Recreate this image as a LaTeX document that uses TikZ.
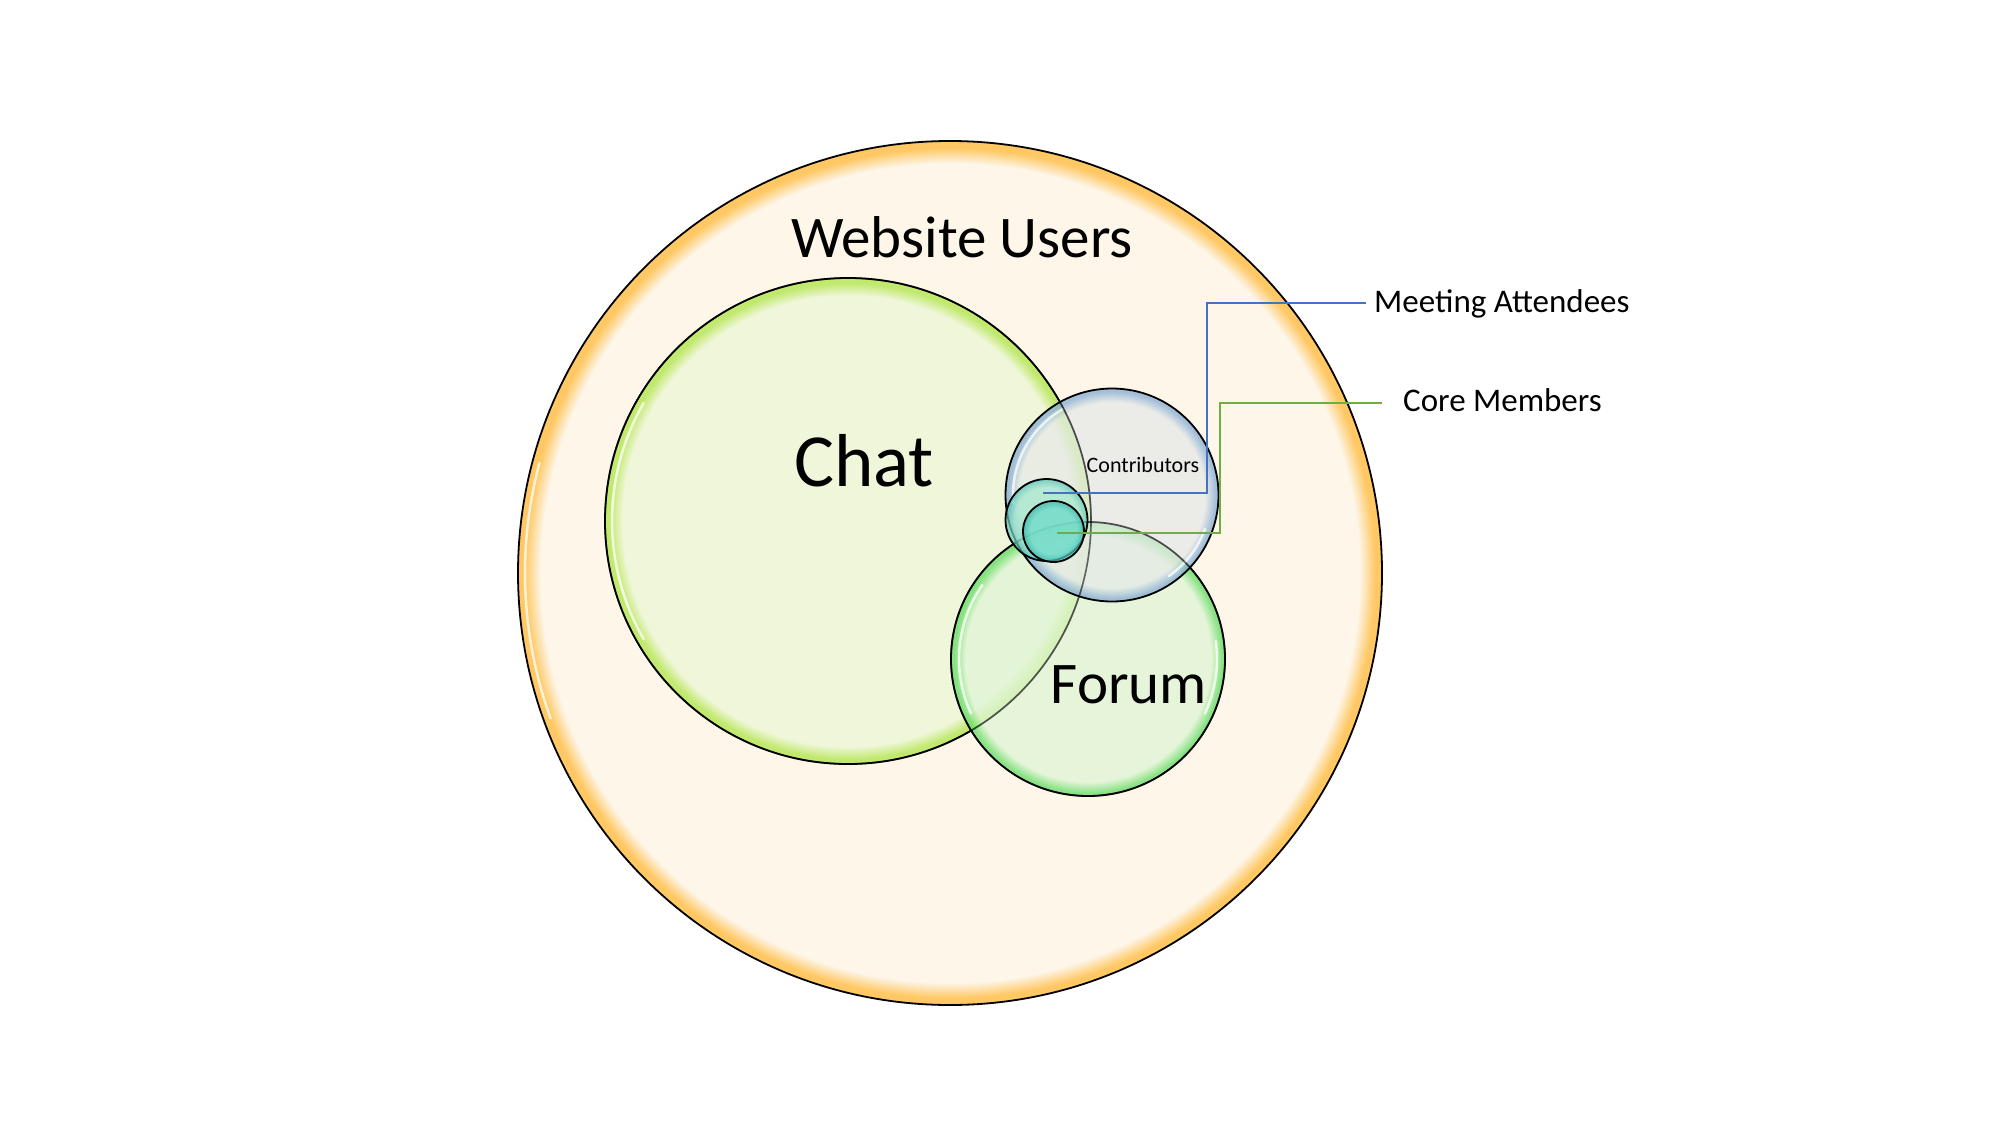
\documentclass[tikz,border=0pt]{standalone}
\usepackage{fontspec}
\setmainfont{Carlito}
\definecolor{creamc}{RGB}{253,246,233}
\definecolor{orangec}{RGB}{255,200,100}
\definecolor{chatf}{RGB}{237,247,214}
\definecolor{chatr}{RGB}{178,230,80}
\definecolor{forumf}{RGB}{223,245,214}
\definecolor{forumr}{RGB}{100,220,100}
\definecolor{contf}{RGB}{229,233,232}
\definecolor{contr}{RGB}{130,170,212}
\definecolor{medf}{RGB}{160,232,205}
\definecolor{medr}{RGB}{90,200,185}
\definecolor{smf}{RGB}{105,218,200}
\definecolor{smr}{RGB}{60,185,175}
\definecolor{lblue}{RGB}{68,114,196}
\definecolor{lgreen}{RGB}{112,173,71}
\pgfdeclareradialshading{usersbub}{\pgfpoint{0bp}{0bp}}{color(0bp)=(creamc); color(23.7bp)=(creamc); color(24.6bp)=(orangec); color(25bp)=(orangec); color(50bp)=(orangec)}
\pgfdeclareradialshading{chatbub}{\pgfpoint{0bp}{0bp}}{color(0bp)=(chatf); color(23.2bp)=(chatf); color(24.5bp)=(chatr); color(25bp)=(chatr); color(50bp)=(chatr)}
\pgfdeclareradialshading{forumbub}{\pgfpoint{0bp}{0bp}}{color(0bp)=(forumf); color(22.4bp)=(forumf); color(24.4bp)=(forumr); color(25bp)=(forumr); color(50bp)=(forumr)}
\pgfdeclareradialshading{contbub}{\pgfpoint{0bp}{0bp}}{color(0bp)=(contf); color(21.8bp)=(contf); color(24.3bp)=(contr); color(25bp)=(contr); color(50bp)=(contr)}
\pgfdeclareradialshading{medbub}{\pgfpoint{0bp}{0bp}}{color(0bp)=(medf); color(20bp)=(medf); color(24.2bp)=(medr); color(25bp)=(medr); color(50bp)=(medr)}
\pgfdeclareradialshading{smbub}{\pgfpoint{0bp}{0bp}}{color(0bp)=(smf); color(19bp)=(smf); color(24.2bp)=(smr); color(25bp)=(smr); color(50bp)=(smr)}
\tikzset{
  bubble/.style={circle, draw=black, line width=1.8pt, inner sep=0pt, shade, minimum size=#1},
  glint/.style={white, line width=2.5pt, opacity=0.75, line cap=round},
  seethru/.style={black, line width=1.6pt, opacity=0.55},
  lbl/.style={inner sep=0pt, text=black, font=\fontsize{33}{33}\selectfont},
  lead/.style={line width=1.8pt}
}
\newcommand\glintarc[5]{\draw[glint] ([shift={(#4:#3)}]#1,#2) arc[start angle=#4, end angle=#5, radius=#3];}
\begin{document}
\begin{tikzpicture}[x=1pt,y=-1pt]
\useasboundingbox (0,0) rectangle (1994,1124);
\fill[white] (0,0) rectangle (1994,1124);
% circles
\node[bubble=864pt, shading=usersbub] (users) at (950,573) {};
\glintarc{950}{573}{425}{-165}{-200}
\node[bubble=486pt, shading=chatbub, fill opacity=0.8] (chat) at (848,521) {};
\glintarc{848}{521}{236}{-150}{-210}
\node[bubble=274pt, shading=forumbub, fill opacity=0.75] (forum) at (1088,659) {};
\glintarc{1088}{659}{129}{-145}{-205}
\glintarc{1088}{659}{129}{25}{-8}
\node[bubble=213pt, shading=contbub, fill opacity=0.72] (contrib) at (1112,495) {};
\glintarc{1112}{495}{99}{-120}{-185}
\glintarc{1112}{495}{99}{55}{20}
% edges seen through the transparent bubbles
\draw[seethru] (chat.center) circle[radius=243];
\draw[seethru] (forum.center) circle[radius=137];
\node[bubble=82pt, shading=medbub, fill opacity=0.7] (meet) at (1046.5,520) {};
\node[bubble=61pt, shading=smbub, fill opacity=0.72] (core) at (1053.5,531.5) {};
% texts
\node[inner sep=0pt, anchor=base, font=\fontsize{59}{59}\selectfont] (usersl) at (962,257) {Website Users};
\node[inner sep=0pt, anchor=base, font=\fontsize{75}{75}\selectfont] (chatl) at (864,486) {Chat};
\node[inner sep=0pt, anchor=base, font=\fontsize{59}{59}\selectfont] (foruml) at (1129,703) {Forum};
\node[inner sep=0pt, anchor=base, font=\fontsize{22}{22}\selectfont] (contl) at (1143,472) {Contributors};
\node[lbl, anchor=base west] (meetl) at (1374,312) {Meeting Attendees};
\node[lbl, anchor=base west] (corel) at (1403,411) {Core Members};
% leaders
\coordinate (mpt) at (1043,493);
\coordinate (mbend) at (1207,303);
\draw[lead, lblue] (mpt) -| (mbend) -- ([xshift=-8pt]mbend -| meetl.west);
\coordinate (cpt) at (1057,533);
\coordinate (cbend) at (1220,403);
\draw[lead, lgreen] (cpt) -| (cbend) -- ([xshift=-21pt]cbend -| corel.west);
\end{tikzpicture}
\end{document}
